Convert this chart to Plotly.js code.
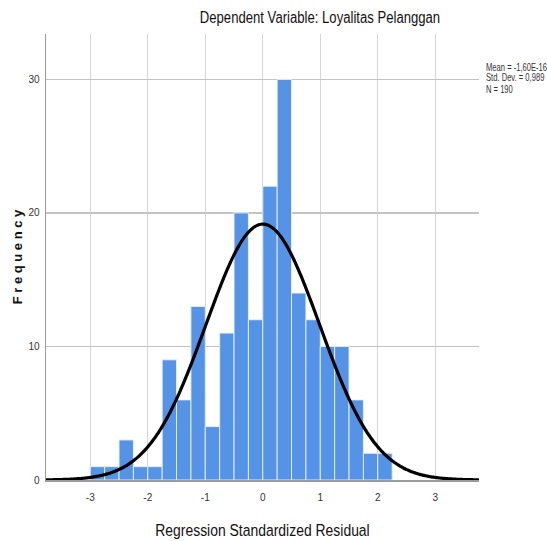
<!DOCTYPE html>
<html>
<head>
<meta charset="utf-8">
<script src="https://cdn.plot.ly/plotly-3.0.1.min.js"></script>
<style>html,body{margin:0;padding:0;background:#fff;}#chart{width:547px;height:541px;}</style>
</head>
<body>
<div id="chart"></div>
<script>
// Histogram bins (left edges, width 0.25) and frequencies
const binStart = -3.0;
const binWidth = 0.25;
const frequencies = [1, 1, 3, 1, 1, 9, 6, 13, 4, 11, 20, 12, 22, 30, 14, 12, 10, 10, 6, 2, 2];
// Summary statistics shown in the chart
const statMean = 0;
const statSd = 0.989;
const statN = 190;
const statLabels = ["Mean = -1,60E-16", "Std. Dev. = 0,989", "N = 190"];
const xTickVals = [-3, -2, -1, 0, 1, 2, 3];
const yTickVals = [0, 10, 20, 30];

const binCenters = frequencies.map((_, i) => binStart + binWidth * (i + 0.5));

// Fitted normal curve defined by the stated mean / sd / N
const xRange = [-3.77, 3.76];
const curveX = [], curveY = [];
for (let k = 0; k <= 300; k++) {
  const x = xRange[0] + (xRange[1] - xRange[0]) * k / 300;
  curveX.push(x);
  const z = (x - statMean) / statSd;
  curveY.push(statN * binWidth / (statSd * Math.sqrt(2 * Math.PI)) * Math.exp(-0.5 * z * z));
}

const FONT = "'Liberation Sans', Arial, sans-serif";

const traces = [
  {
    type: 'bar',
    x: binCenters,
    y: frequencies,
    width: binWidth,
    marker: {color: 'rgb(84,147,230)', line: {color: 'rgba(235,242,252,0.9)', width: 1}},
    hoverinfo: 'x+y'
  },
  {
    type: 'scatter',
    mode: 'lines',
    x: curveX,
    y: curveY,
    line: {color: '#000', width: 3.2, shape: 'spline'},
    hoverinfo: 'skip'
  }
];

const layout = {
  width: 547,
  height: 541,
  margin: {l: 46, r: 68, t: 34, b: 61},
  paper_bgcolor: '#fff',
  plot_bgcolor: '#fff',
  showlegend: false,
  bargap: 0,
  title: {
    text: 'Dependent Variable: Loyalitas Pelanggan',
    font: {family: FONT, size: 16, color: '#111'},
    x: 0.585, xanchor: 'center', y: 0.967, yanchor: 'middle'
  },
  xaxis: {
    range: xRange,
    tickvals: xTickVals,
    ticktext: xTickVals.map(String),
    ticks: '',
    showgrid: true,
    gridcolor: '#d6d6d6',
    gridwidth: 1,
    zeroline: false,
    showline: true,
    linecolor: '#9a9a9a',
    linewidth: 1.5,
    tickfont: {family: FONT, size: 10, color: '#333'},
    ticklabelstandoff: 7,
    title: {text: 'Regression Standardized Residual', font: {family: FONT, size: 17, color: '#111'}, standoff: 22}
  },
  yaxis: {
    range: [0, 33.4],
    tickvals: yTickVals,
    ticktext: yTickVals.map(String),
    ticks: '',
    showgrid: true,
    gridcolor: '#c4c4c4',
    gridwidth: 1.5,
    zeroline: false,
    showline: true,
    linecolor: '#9a9a9a',
    linewidth: 1.5,
    tickfont: {family: FONT, size: 10, color: '#333'},
    ticklabelstandoff: 3,
    title: {text: '<b>F r e q u e n c y</b>', font: {family: FONT, size: 13, color: '#111'}, standoff: 3}
  },
  annotations: statLabels.map((t, i) => ({
    text: t,
    xref: 'paper', yref: 'paper',
    x: 1.012, xanchor: 'left',
    y: 1 - (33 + i * 11) / 446, yanchor: 'middle',
    showarrow: false,
    font: {family: FONT, size: 10, color: '#333'}
  }))
};

const gd = document.getElementById('chart');
Plotly.newPlot(gd, traces, layout, {displayModeBar: false, staticPlot: true}).then(() => {
  // emulate the narrow (Arial Narrow-like) face of the original
  const squeeze = (sel, origin, f) => gd.querySelectorAll(sel).forEach(el => {
    el.style.transformBox = 'fill-box';
    el.style.transformOrigin = origin;
    el.style.transform = 'scaleX(' + f + ')';
  });
  squeeze('.gtitle', 'center', 0.82);
  squeeze('.xtitle', 'center', 0.82);
  squeeze('.annotation-text', 'left center', 0.76);
});
</script>
</body>
</html>
